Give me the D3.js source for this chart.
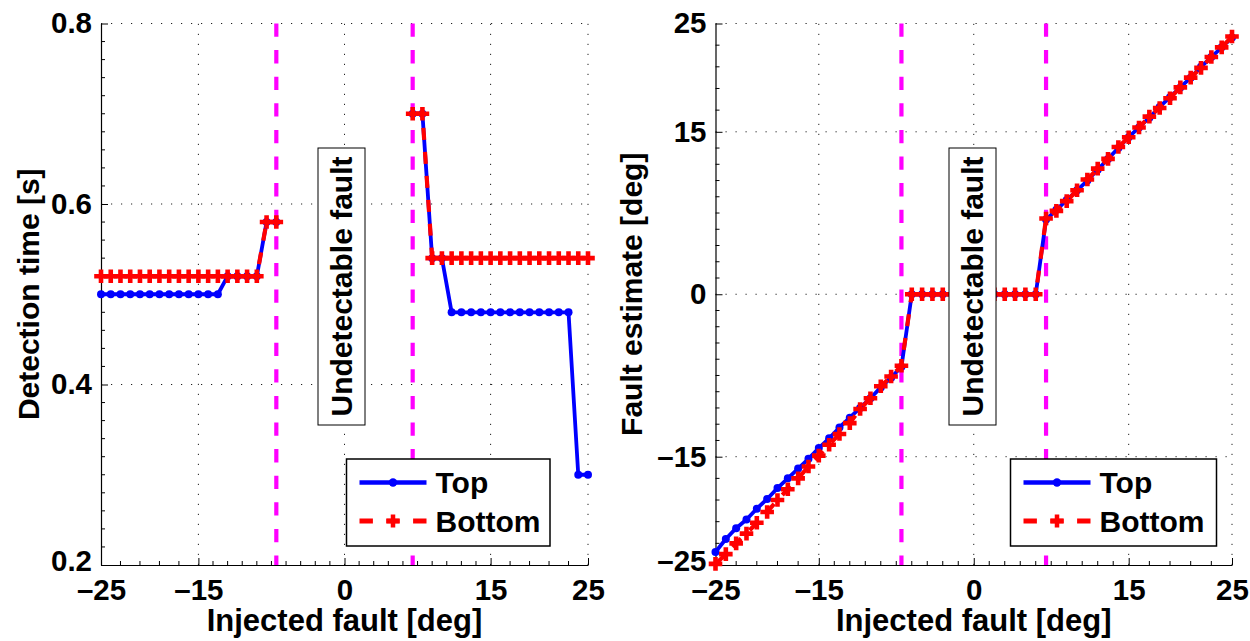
<!DOCTYPE html>
<html>
<head>
<meta charset="utf-8">
<script src="https://cdn.jsdelivr.net/npm/d3@7"></script>
<style>
  html, body { margin: 0; padding: 0; background: #fff; }
  svg { display: block; }
  text { font-family: "Liberation Sans", Arial, Helvetica, sans-serif; font-weight: bold; fill: #000; }
</style>
</head>
<body>
<svg id="chart" width="1250" height="641"></svg>
<script>
// Injected fault values (deg), shared by both panels
const injected = [-25,-24,-23,-22,-21,-20,-19,-18,-17,-16,-15,-14,-13,-12,-11,-10,-9,-8,-7,
                  -6,-5,-4,-3,-2,-1,0,1,2,3,4,5,6,
                  7,8,9,10,11,12,13,14,15,16,17,18,19,20,21,22,23,24,25];

// Detection time [s]; null inside the undetectable band
const detectionTop = [0.50,0.50,0.50,0.50,0.50,0.50,0.50,0.50,0.50,0.50,0.50,0.50,0.50,0.52,0.52,0.52,0.52,0.58,0.58,
                      null,null,null,null,null,null,null,null,null,null,null,null,null,
                      0.70,0.70,0.54,0.54,0.48,0.48,0.48,0.48,0.48,0.48,0.48,0.48,0.48,0.48,0.48,0.48,0.48,0.30,0.30];
const detectionBottom = [0.52,0.52,0.52,0.52,0.52,0.52,0.52,0.52,0.52,0.52,0.52,0.52,0.52,0.52,0.52,0.52,0.52,0.58,0.58,
                         null,null,null,null,null,null,null,null,null,null,null,null,null,
                         0.70,0.70,0.54,0.54,0.54,0.54,0.54,0.54,0.54,0.54,0.54,0.54,0.54,0.54,0.54,0.54,0.54,0.54,0.54];

// Fault estimate [deg]
const estimateTop = [-23.8,-22.6,-21.6,-20.8,-19.8,-18.9,-17.9,-17.0,-16.1,-15.2,-14.2,-13.3,-12.3,-11.4,-10.5,-9.6,-8.6,-7.7,-6.7,
                     0,0,0,0,0,0,0,0,0,0,0,0,0,
                     6.9,7.8,8.7,9.6,10.5,11.5,12.5,13.5,14.5,15.4,16.3,17.3,18.2,19.1,20.0,21.0,21.9,22.8,23.7];
const estimateBottom = [-24.9,-24.0,-23.0,-22.1,-21.1,-20.1,-19.0,-18.0,-17.0,-15.9,-14.9,-13.9,-12.9,-11.9,-10.6,-9.6,-8.5,-7.6,-6.6,
                        0,0,0,0,0,0,0,0,0,0,0,0,0,
                        7.0,7.7,8.6,9.6,10.6,11.6,12.5,13.6,14.5,15.4,16.4,17.2,18.1,19.1,20.0,20.9,21.9,22.8,23.8];

// Detectability limits (deg)
const limits = [-7, 7];

// Tick values
const xTicks = [-25, -15, 0, 15, 25];
const detectionTicks = [0.2, 0.4, 0.6, 0.8];
const estimateTicks = [-25, -15, 0, 15, 25];

const seriesNames = ["Top", "Bottom"];
const bandLabel = "Undetectable fault";

const svg = d3.select("#chart");
const fmt = v => (v < 0 ? "\u2013" + Math.abs(v) : String(v));

function minorTicks(majors, divisions) {
  const out = [];
  for (let i = 0; i < majors.length - 1; i++) {
    const a = majors[i], b = majors[i + 1], n = divisions[i];
    for (let k = 1; k < n; k++) out.push(a + (b - a) * k / n);
  }
  return out;
}

function panel(cfg) {
  const x = d3.scaleLinear().domain([-25, 25]).range([cfg.left, cfg.right]);
  const y = d3.scaleLinear().domain(cfg.yDomain).range([cfg.bottom, cfg.top]);
  const g = svg.append("g");

  // dotted grid at major ticks
  const grid = g.append("g").attr("stroke", "#222").attr("stroke-width", 1)
    .attr("stroke-dasharray", "1.2,8.8");
  xTicks.filter(t => t !== -25).forEach(t => {
    grid.append("line").attr("x1", x(t)).attr("x2", x(t))
      .attr("y1", cfg.bottom).attr("y2", cfg.top);
  });
  cfg.yTicks.filter(t => t !== cfg.yDomain[0]).forEach(t => {
    grid.append("line").attr("x1", cfg.left).attr("x2", cfg.right)
      .attr("y1", y(t)).attr("y2", y(t));
  });

  // minor ticks
  const mt = g.append("g").attr("stroke", "#000").attr("stroke-width", 1);
  minorTicks(xTicks, [5, 10, 10, 5]).forEach(t => {
    mt.append("line").attr("x1", x(t)).attr("x2", x(t))
      .attr("y1", cfg.bottom).attr("y2", cfg.bottom - 4);
  });
  minorTicks(cfg.yTicks, cfg.yDivisions).forEach(t => {
    mt.append("line").attr("x1", cfg.left).attr("x2", cfg.left + 4)
      .attr("y1", y(t)).attr("y2", y(t));
  });

  // axes
  const xa = g.append("g").attr("transform", `translate(0,${cfg.bottom})`)
    .call(d3.axisBottom(x).tickValues(xTicks).tickFormat(fmt)
      .tickSizeInner(-7).tickSizeOuter(0).tickPadding(14));
  const ya = g.append("g").attr("transform", `translate(${cfg.left},0)`)
    .call(d3.axisLeft(y).tickValues(cfg.yTicks).tickFormat(cfg.yFormat)
      .tickSizeInner(-7).tickSizeOuter(0).tickPadding(9));
  [xa, ya].forEach(a => {
    a.selectAll("path.domain").attr("stroke", "#000").attr("stroke-width", 1.2);
    a.selectAll(".tick line").attr("stroke", "#000");
    a.selectAll("text").attr("font-size", 29.5).attr("font-weight", "bold")
      .attr("font-family", '"Liberation Sans", Arial, sans-serif').attr("fill", "#000");
  });
  // lowest y label sits just above the x labels
  ya.selectAll(".tick text").filter(d => d === cfg.yDomain[0]).attr("dy", "0.2em");

  // axis labels
  g.append("text").attr("x", (cfg.left + cfg.right) / 2).attr("y", 631)
    .attr("text-anchor", "middle").attr("font-size", 31).text("Injected fault [deg]");
  g.append("text").attr("transform", `translate(${cfg.yLabelX},${(cfg.top + cfg.bottom) / 2}) rotate(-90)`)
    .attr("text-anchor", "middle").attr("font-size", 30).text(cfg.yLabel);

  // detectability limits
  limits.forEach(v => {
    g.append("line").attr("x1", x(v)).attr("x2", x(v))
      .attr("y1", cfg.top).attr("y2", cfg.bottom)
      .attr("stroke", "#ff00ff").attr("stroke-width", 4.2)
      .attr("stroke-dasharray", "13.3,13.3");
  });

  const pts = vals => injected.map((v, i) => [v, vals[i]]);
  const line = d3.line().defined(d => d[1] != null).x(d => x(d[0])).y(d => y(d[1]));

  // Top series: solid blue with dots
  const topPts = pts(cfg.topVals);
  g.append("path").attr("d", line(topPts)).attr("fill", "none")
    .attr("stroke", "#0000ff").attr("stroke-width", 3.8).attr("stroke-linejoin", "round");
  g.append("g").selectAll("circle").data(topPts.filter(d => d[1] != null)).join("circle")
    .attr("cx", d => x(d[0])).attr("cy", d => y(d[1])).attr("r", 4).attr("fill", "#0000ff");

  // Bottom series: dashed red with plus markers
  const botPts = pts(cfg.bottomVals);
  g.append("path").attr("d", line(botPts)).attr("fill", "none")
    .attr("stroke", "#ff0000").attr("stroke-width", 4.2).attr("stroke-dasharray", "12,12");
  g.append("g").selectAll("path").data(botPts.filter(d => d[1] != null)).join("path")
    .attr("transform", d => `translate(${x(d[0])},${y(d[1])})`)
    .attr("d", "M-6.8,0H6.8M0,-6.8V6.8").attr("stroke", "#ff0000").attr("stroke-width", 4.6);

  // undetectable band label
  const bx = cfg.bandBox;
  g.append("rect").attr("x", bx[0]).attr("y", bx[1]).attr("width", bx[2]).attr("height", bx[3])
    .attr("fill", "#fff").attr("stroke", "#000").attr("stroke-width", 1);
  g.append("text").attr("transform", `translate(${bx[0] + bx[2] / 2 + 10.5},${bx[1] + bx[3] / 2}) rotate(-90)`)
    .attr("text-anchor", "middle").attr("font-size", 30).text(bandLabel);

  // legend
  const lg = cfg.legend;
  const leg = g.append("g").attr("transform", `translate(${lg[0]},${lg[1]})`);
  leg.append("rect").attr("width", lg[2]).attr("height", lg[3])
    .attr("fill", "#fff").attr("stroke", "#000").attr("stroke-width", 1.5);
  leg.append("line").attr("x1", 13).attr("x2", 80).attr("y1", 23.5).attr("y2", 23.5)
    .attr("stroke", "#0000ff").attr("stroke-width", 4.5);
  leg.append("circle").attr("cx", 46.5).attr("cy", 23.5).attr("r", 4.2).attr("fill", "#0000ff");
  leg.append("line").attr("x1", 13).attr("x2", 80).attr("y1", 62).attr("y2", 62)
    .attr("stroke", "#ff0000").attr("stroke-width", 5).attr("stroke-dasharray", "13.4,13.4");
  leg.append("path").attr("transform", "translate(46.5,62)").attr("d", "M-6.5,0H6.5M0,-6.5V6.5")
    .attr("stroke", "#ff0000").attr("stroke-width", 4.5);
  leg.append("text").attr("x", 89).attr("y", 33.5).attr("font-size", 30).text(seriesNames[0]);
  leg.append("text").attr("x", 89).attr("y", 73).attr("font-size", 30).text(seriesNames[1]);
}

panel({
  left: 101, right: 588, top: 23.5, bottom: 565,
  yDomain: [0.2, 0.8], yTicks: detectionTicks, yDivisions: [10, 10, 10],
  yFormat: d3.format(".1f"), yLabel: "Detection time [s]", yLabelX: 39,
  topVals: detectionTop, bottomVals: detectionBottom,
  bandBox: [318, 148, 47, 277], legend: [346.5, 459, 203.5, 87]
});

panel({
  left: 715.5, right: 1232, top: 23.5, bottom: 565,
  yDomain: [-25, 25], yTicks: estimateTicks, yDivisions: [5, 10, 10, 5],
  yFormat: fmt, yLabel: "Fault estimate [deg]", yLabelX: 642,
  topVals: estimateTop, bottomVals: estimateBottom,
  bandBox: [949, 148, 47, 277], legend: [1010.5, 459, 206, 87]
});
</script>
</body>
</html>
